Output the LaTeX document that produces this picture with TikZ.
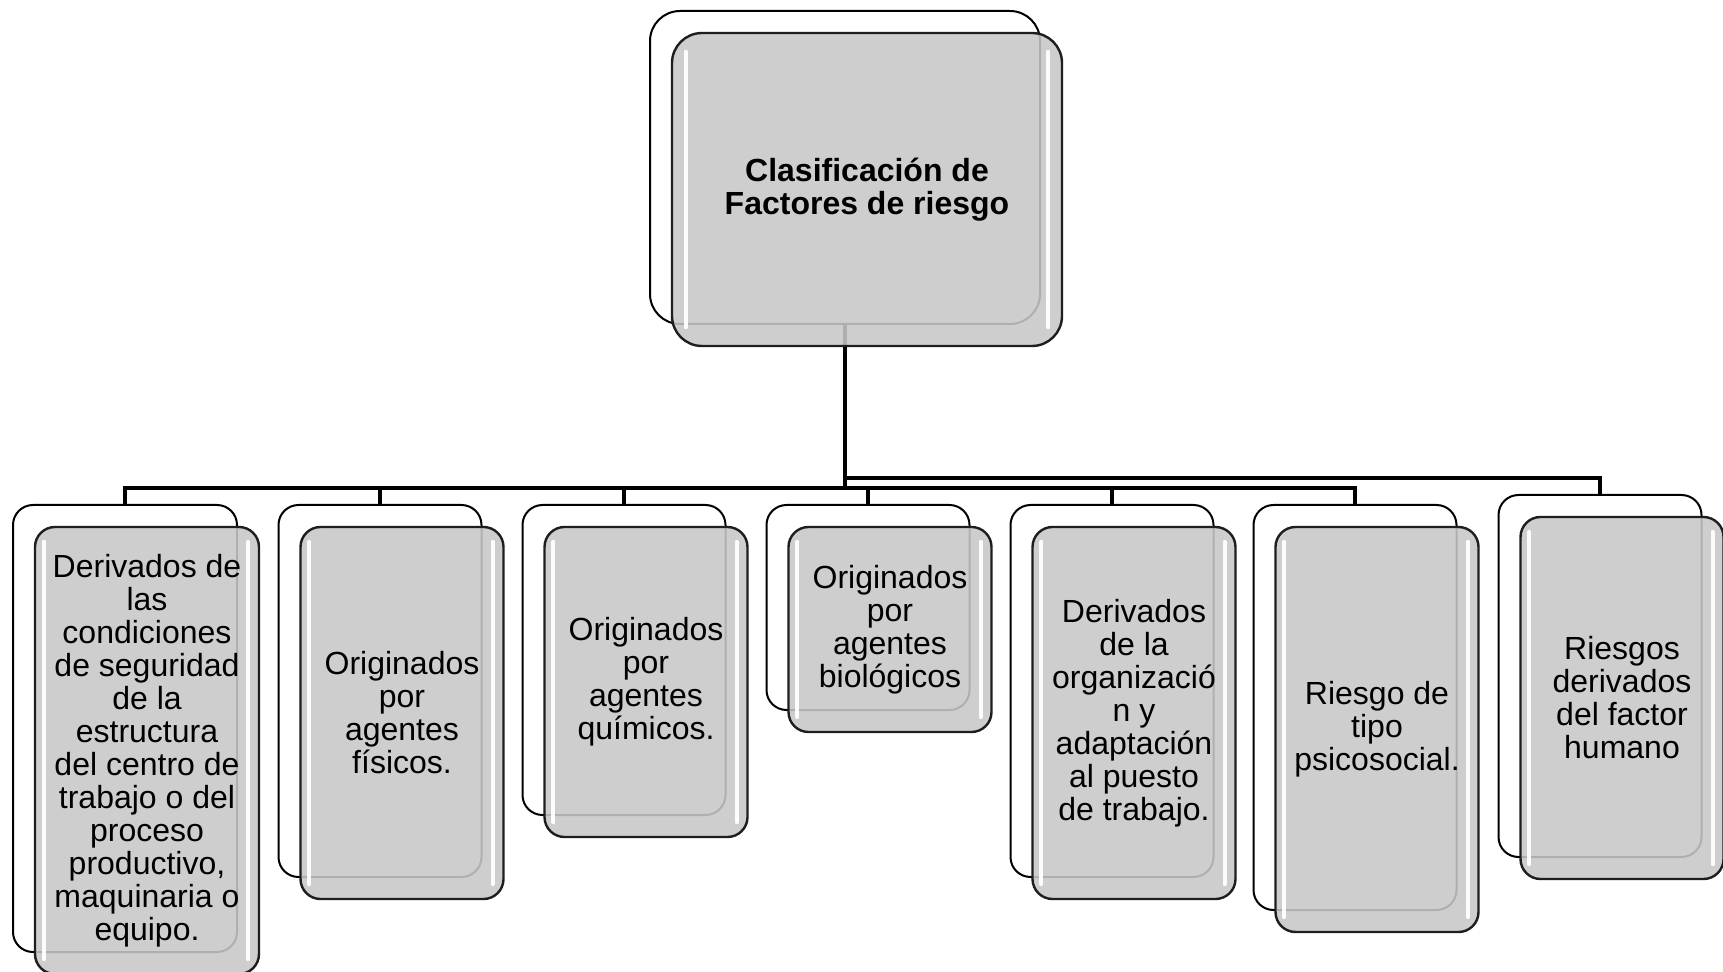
\documentclass[tikz,border=0pt]{standalone}
\usepackage{fontspec}
\setmainfont{Liberation Sans}
\usetikzlibrary{calc}
\definecolor{frontgray}{HTML}{C8C8C8}
\definecolor{edgegray}{HTML}{1E1E1E}
\begin{document}
\begin{tikzpicture}[x=0.5pt,y=-0.5pt,
  backbox/.style={draw=black, line width=1pt, fill=white, rounded corners=10pt, inner sep=0pt},
  frontbox/.style={draw=edgegray, line width=1.2pt, fill=frontgray, fill opacity=0.88, draw opacity=1, text opacity=1,
    rounded corners=10pt, inner sep=0pt, align=center, font=\fontsize{16}{16.5}\selectfont},
  conn/.style={line width=2.3pt, draw=black},
  hl/.style={draw=white, line width=2pt, line cap=round, opacity=0.95}]
\fill[white] (0,0) rectangle (1723,972);
\useasboundingbox (0,0) rectangle (1723,972);

% back boxes
\node[backbox, rounded corners=15pt, minimum width=195pt, minimum height=156.5pt] (t) at (845,167.5) {};
\node[backbox, minimum width=112pt, minimum height=223.5pt] (b1) at (125,728.5) {};
\node[backbox, minimum width=101.5pt, minimum height=186pt] (b2) at (380,691) {};
\node[backbox, minimum width=101.5pt, minimum height=155pt] (b3) at (624,660) {};
\node[backbox, minimum width=101.5pt, minimum height=102.5pt] (b4) at (868,607.5) {};
\node[backbox, minimum width=101.5pt, minimum height=186pt] (b5) at (1112,691) {};
\node[backbox, minimum width=101.5pt, minimum height=202.5pt] (b6) at (1355,707.5) {};
\node[backbox, minimum width=101.5pt, minimum height=181pt] (b7) at (1600,676) {};

% connectors
\coordinate (busL) at (0,488);
\coordinate (busU) at (0,478);
\foreach \c in {b1,b2,b3,b4,b5,b6}{
  \draw[conn] (t.south) -- (t.south |- busL) -| (\c.north);
}
\draw[conn] (t.south) -- (t.south |- busU) -| (b7.north);

% front boxes
\node[frontbox, rounded corners=15pt, minimum width=195pt, minimum height=156.5pt, font=\bfseries\fontsize{16}{16.5}\selectfont] (ft) at (867,189.5) {Clasificación de\\Factores de riesgo};
\node[frontbox, minimum width=112pt, minimum height=223.5pt] (f1) at (147,750.5) {Derivados de\\las\\condiciones\\de seguridad\\de la\\estructura\\del centro de\\trabajo o del\\proceso\\productivo,\\maquinaria o\\equipo.};
\node[frontbox, minimum width=101.5pt, minimum height=186pt] (f2) at (402,713) {Originados\\por\\agentes\\físicos.};
\node[frontbox, minimum width=101.5pt, minimum height=155pt] (f3) at (646,682) {Originados\\por\\agentes\\químicos.};
\node[frontbox, minimum width=101.5pt, minimum height=102.5pt] (f4) at (890,629.5) {Originados\\por\\agentes\\biológicos};
\node[frontbox, minimum width=101.5pt, minimum height=186pt] (f5) at (1134,713) {Derivados\\de la\\organizació\\n y\\adaptación\\al puesto\\de trabajo.};
\node[frontbox, minimum width=101.5pt, minimum height=202.5pt] (f6) at (1377,729.5) {Riesgo de\\tipo\\psicosocial.};
\node[frontbox, minimum width=101.5pt, minimum height=181pt] (f7) at (1622,698) {Riesgos\\derivados\\del factor\\humano};

% highlights
\draw[hl] ($(ft.north west)+(15,20)$) -- ($(ft.south west)+(15,-20)$);
\draw[hl] ($(ft.north east)+(-15,20)$) -- ($(ft.south east)+(-15,-20)$);
\foreach \f in {f1,f2,f3,f4,f5,f6,f7}{
  \draw[hl] ($(\f.north west)+(10,16)$) -- ($(\f.south west)+(10,-16)$);
  \draw[hl] ($(\f.north east)+(-12,16)$) -- ($(\f.south east)+(-12,-16)$);
}
\end{tikzpicture}
\end{document}
